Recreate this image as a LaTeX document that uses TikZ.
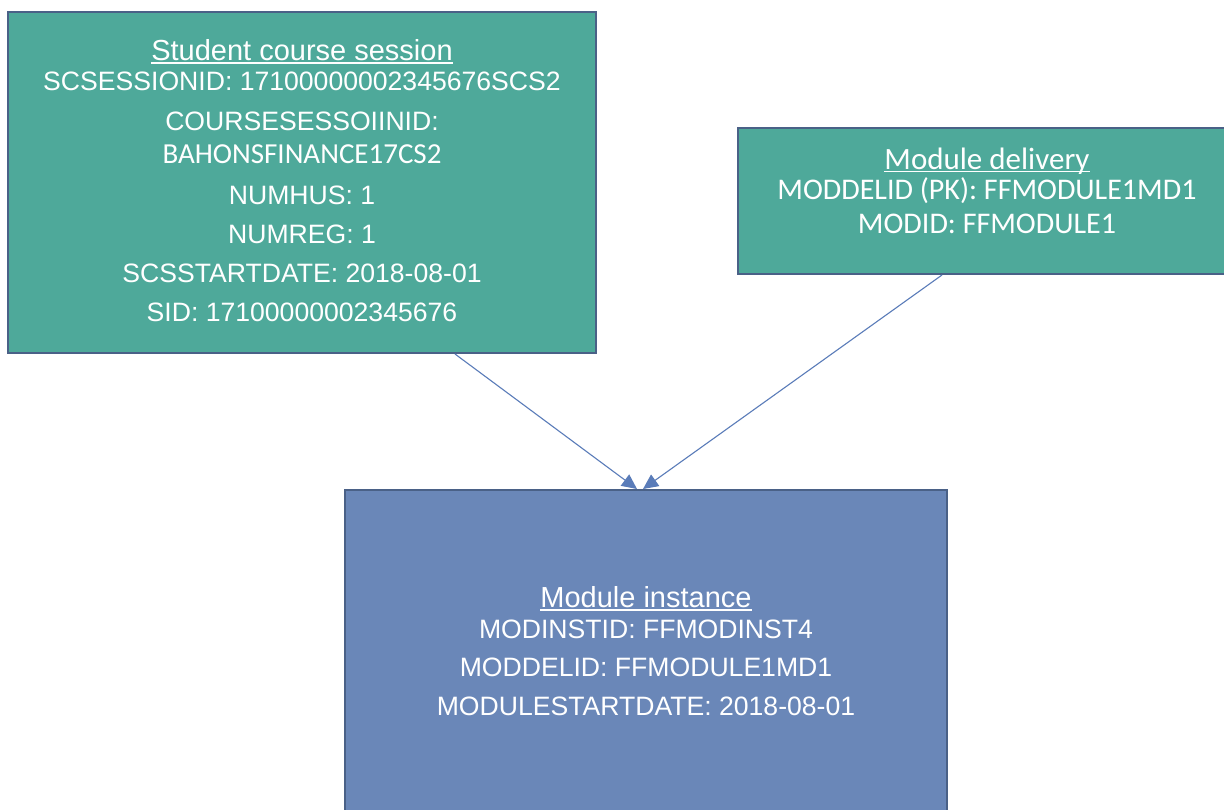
\documentclass[tikz,border=0pt]{standalone}
\usepackage{fontspec}
\setmainfont{Liberation Sans}
\newfontfamily\calfont{Carlito}
\usetikzlibrary{arrows.meta}
\definecolor{tealbox}{RGB}{78,169,154}
\definecolor{bluebox}{RGB}{106,135,184}
\definecolor{edge}{RGB}{74,97,135}
\definecolor{arrowc}{RGB}{90,124,185}
\tikzset{
  entity/.style={draw=edge, line width=2pt},
  bodytxt/.style={anchor=base, text=white, inner sep=0pt, font=\fontsize{26.6}{32}\selectfont},
  titletxt/.style={anchor=base, text=white, inner sep=0pt, font=\fontsize{29}{34}\selectfont},
  caltxt/.style={anchor=base, text=white, inner sep=0pt, font=\calfont\fontsize{29}{34}\selectfont},
  calbody/.style={anchor=base, text=white, inner sep=0pt, font=\calfont\fontsize{30}{35}\selectfont},
  caltitle/.style={anchor=base, text=white, inner sep=0pt, font=\calfont\fontsize{31}{36}\selectfont},
  uline/.style={draw=white, line width=1.8pt},
  link/.style={draw=arrowc, line width=1.1pt, -{Triangle[length=15pt,width=14pt]}}
}
\begin{document}
\begin{tikzpicture}[x=1pt,y=-1pt]
\clip (0,0) rectangle (1224,809);
\fill[white] (0,0) rectangle (1224,809);

% boxes
\draw[entity, fill=tealbox] (8,12) rectangle (596,353);
\draw[entity, fill=tealbox] (738,128) rectangle (1236,274);
\draw[entity, fill=bluebox] (345,490) rectangle (947,830);

% Student course session
\node[titletxt] (a0) at (302,60) {Student course session};
\draw[uline] ([yshift=-3pt]a0.base west) -- ([yshift=-3pt]a0.base east);
\node[bodytxt] (a1) at (302,90.7) {SCSESSIONID: 17100000002345676SCS2};
\node[bodytxt] (a2) at (302,130) {COURSESESSOIINID:};
\node[caltxt] (a3) at (302,163) {BAHONSFINANCE17CS2};
\node[bodytxt] (a4) at (302,204) {NUMHUS: 1};
\node[bodytxt] (a5) at (302,243) {NUMREG: 1};
\node[bodytxt] (a6) at (302,282) {SCSSTARTDATE: 2018-08-01};
\node[bodytxt] (a7) at (302,321) {SID: 17100000002345676};

% Module delivery
\node[caltitle] (b0) at (987,169) {Module delivery};
\draw[uline] ([yshift=-2.5pt]b0.base west) -- ([yshift=-2.5pt]b0.base east);
\node[calbody] (b1) at (987,199) {MODDELID (PK): FFMODULE1MD1};
\node[calbody] (b2) at (987,233) {MODID: FFMODULE1};

% Module instance
\node[titletxt] (c0) at (646,607) {Module instance};
\draw[uline] ([yshift=-3pt]c0.base west) -- ([yshift=-3pt]c0.base east);
\node[bodytxt] (c1) at (646,638) {MODINSTID: FFMODINST4};
\node[bodytxt] (c2) at (646,676) {MODDELID: FFMODULE1MD1};
\node[bodytxt] (c3) at (646,715) {MODULESTARTDATE: 2018-08-01};

% connectors
\coordinate (aout) at (455,354);
\coordinate (bout) at (942,275);
\coordinate (cin1) at (637,489);
\coordinate (cin2) at (643,489);
\draw[link] (aout) -- (cin1);
\draw[link] (bout) -- (cin2);
\end{tikzpicture}
\end{document}
